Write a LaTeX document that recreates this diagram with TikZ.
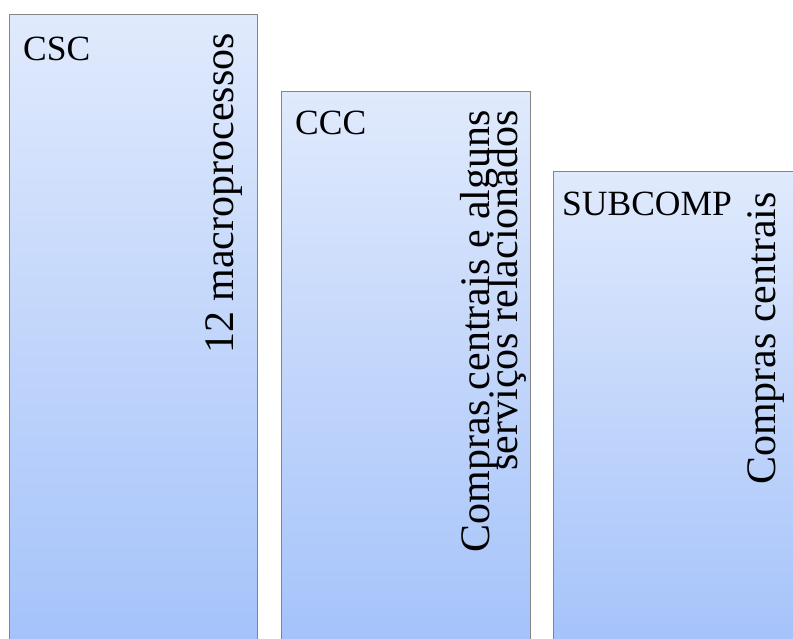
\documentclass[tikz,border=0pt]{standalone}
\usepackage{fontspec}
\setmainfont{Liberation Serif}
\definecolor{barTop}{HTML}{E0EAFC}
\definecolor{barBottom}{HTML}{A4C2FA}
\definecolor{barEdge}{HTML}{858585}
\begin{document}
\begin{tikzpicture}[x=1pt,y=-1pt,
  bar/.style={draw=barEdge, line width=1pt, top color=barTop, bottom color=barBottom,
    anchor=north west, inner sep=0pt, minimum width=#1},
  tag/.style={anchor=base west, inner sep=0pt, font=\fontsize{35.5}{35.5}\selectfont},
  side/.style={anchor=base east, inner sep=0pt, rotate=90, font=\fontsize{42}{42}\selectfont}]
  \useasboundingbox (0,0) rectangle (793,639);
  \clip (0,0) rectangle (793,639);
  % three bars of decreasing height, running off the bottom edge
  \node[bar=248pt, minimum height=635pt] (csc) at (9,14) {};
  \node[bar=249pt, minimum height=558pt] (ccc) at (281,91) {};
  \node[bar=250pt, minimum height=478pt] (sub) at (553,171) {};
  % titles
  \node[tag] (cscT) at (23,61) {CSC};
  \node[tag] (cccT) at (295,135) {CCC};
  \node[tag] (subT) at (562,216) {SUBCOMP};
  % vertical descriptions
  \node[side] (cscD) at (233,33) {12 macroprocessos};
  \node[side] (cccD1) at (489,110) {Compras centrais e alguns};
  \node[side] (cccD2) at (517,110) {serviços relacionados};
  \node[side] (subD) at (775,192) {Compras centrais};
\end{tikzpicture}
\end{document}
